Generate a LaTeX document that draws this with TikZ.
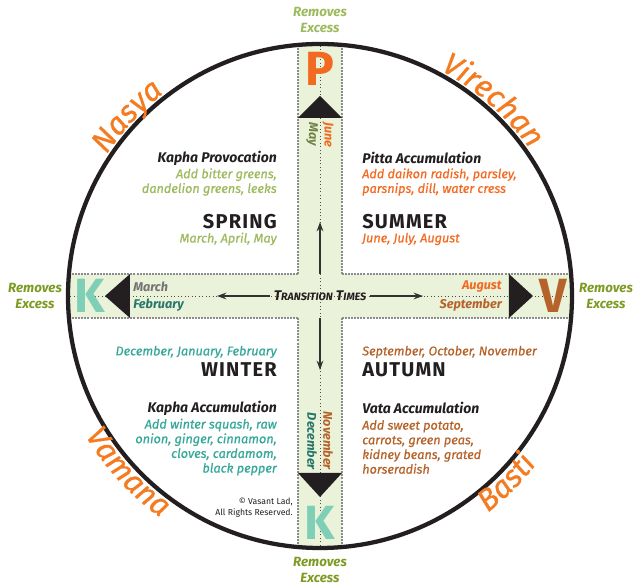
\documentclass[tikz,border=0pt]{standalone}
\usepackage{fontspec}
\setmainfont{Fira Sans}
\usepackage{xcolor}
\usetikzlibrary{arrows.meta,positioning,decorations.text}

\definecolor{springgreen}{HTML}{9DBA5E}
\definecolor{summerorange}{HTML}{F26A21}
\definecolor{winterteal}{HTML}{36A898}
\definecolor{autumnbrown}{HTML}{B5632A}
\definecolor{excessgreen}{HTML}{7D9B23}
\definecolor{therapyorange}{HTML}{F47B20}
\definecolor{bandfill}{HTML}{EBF2DA}
\definecolor{doshateal}{HTML}{7FCFB7}
\definecolor{inkdark}{HTML}{231F20}

\newcommand{\fakesc}[2]{{\fontsize{10.5}{10}\selectfont #1}{\fontsize{8}{10}\selectfont #2}}
\newcommand{\rimfont}{\fontsize{23}{23}\selectfont\itshape
                      \addfontfeatures{FakeBold=0.8}\color{therapyorange}}

\begin{document}
\begin{tikzpicture}[
      x=0.75pt, y=0.75pt,
      band/.style={fill=bandfill},
      bandedge/.style={draw=black!45, line width=1.5pt,
                       dash pattern=on 1.5pt off 0.8pt},
      midline/.style={draw=black!70, line width=0.6pt, dotted},
      pointer/.style={fill=inkdark},
      dosha/.style={font=\fontsize{36}{36}\selectfont\bfseries, inner sep=0pt},
      excess/.style={font=\fontsize{10}{12}\selectfont\bfseries\itshape,
                     text=excessgreen, align=center, inner sep=0pt},
      phase/.style={font=\fontsize{10.5}{12}\selectfont\bfseries\itshape,
                    text=inkdark, inner sep=0pt},
      food/.style={font=\fontsize{9.5}{11}\selectfont\itshape
                   \addfontfeatures{FakeBold=0.7}, inner sep=0pt},
      season/.style={font=\fontsize{15}{15}\selectfont\bfseries
                     \addfontfeatures{LetterSpace=6}, text=inkdark,
                     inner sep=0pt},
      months/.style={font=\fontsize{9.5}{11}\selectfont\itshape
                     \addfontfeatures{FakeBold=0.7}, inner sep=0pt},
      bandmonth/.style={font=\fontsize{9.5}{10}\selectfont\bfseries\itshape,
                        inner sep=0pt},
      flow/.style={-{Stealth[length=7pt,width=5pt]}, line width=1.1pt,
                   draw=black!80},
      therapy/.style={decorate, decoration={text along path,
                      text align=center, text={#1}}},
    ]
    \useasboundingbox (-320,-292) rectangle (320,296);

    % --- the cross of the two bands, cut to the wheel ---------------------
    \begin{scope}
      \clip (0,0) circle[radius=252];
      \fill[band] (-22,-260) rectangle (22,260);
      \fill[band] (-260,-22) rectangle (260,22);
      \draw[bandedge] (-22,22) -- (-22,260);  \draw[bandedge] (22,22) -- (22,260);
      \draw[bandedge] (-22,-22) -- (-22,-260); \draw[bandedge] (22,-22) -- (22,-260);
      \draw[bandedge] (-22,22) -- (-260,22);  \draw[bandedge] (-22,-22) -- (-260,-22);
      \draw[bandedge] (22,22) -- (260,22);    \draw[bandedge] (22,-22) -- (260,-22);
      \draw[midline] (0,-260) -- (0,260);
      \draw[midline] (-260,0) -- (260,0);
    \end{scope}

    % --- the wheel --------------------------------------------------------
    \draw[draw=inkdark, line width=3.2pt] (0,0) circle[radius=252];

    % --- pointers at the ends of the bands --------------------------------
    \fill[pointer] (-22,178) -- (22,178) -- (0,200) -- cycle;
    \fill[pointer] (-22,-177) -- (22,-177) -- (0,-201) -- cycle;
    \fill[pointer] (-190,-22) -- (-190,22) -- (-215,0) -- cycle;
    \fill[pointer] (189,-22) -- (189,22) -- (213,0) -- cycle;

    % --- doshas -----------------------------------------------------------
    \node[dosha, text=summerorange] (pitta)  at (0,227)    {P};
    \node[dosha, text=doshateal]    (kaphaw) at (-230,0)   {K};
    \node[dosha, text=autumnbrown]  (vata)   at (233,0)    {V};
    \node[dosha, text=doshateal]    (kaphas) at (0,-227)   {K};

    \node[excess, text=springgreen] (exn) at (0,276)    {Removes\\Excess};
    \node[excess] (exw) at (-285,0)   {Removes\\Excess};
    \node[excess] (exe) at (286,0)    {Removes\\Excess};
    \node[excess] (exs) at (0,-274)   {Removes\\Excess};

    % --- transition arrows ------------------------------------------------
    \node[inner sep=3pt, font=\bfseries\itshape, text=inkdark] (trans) at (0,0)
         {\fakesc{T}{RANSITION} \fakesc{T}{IMES}};
    \coordinate (westtip)   at (-103,0);
    \coordinate (easttip)   at (103,0);
    \coordinate (northfoot) at (0,22);
    \coordinate (southfoot) at (0,-22);
    \coordinate (northtip)  at (0,74);
    \coordinate (southtip)  at (0,-74);
    \draw[flow] (trans.west) -- (westtip);
    \draw[flow] (trans.east) -- (easttip);
    \draw[flow] (northfoot)  -- (northtip);
    \draw[flow] (southfoot)  -- (southtip);

    % --- months inside the bands ------------------------------------------
    \node[bandmonth, anchor=west, text=black!55] (march) at (-187,9)  {March};
    \node[bandmonth, anchor=west, text=winterteal!70!black] (feb) at (-187,-9)
         {February};
    \node[bandmonth, anchor=east, text=summerorange] (aug) at (182,9) {August};
    \node[bandmonth, anchor=east, text=autumnbrown] (sep) at (182,-9)
         {September};
    \node[bandmonth, rotate=-90, anchor=west, text=summerorange] (jun)
         at (8,174) {June};
    \node[bandmonth, rotate=-90, anchor=west, text=springgreen!70!black] (may)
         at (-8,174) {May};
    \node[bandmonth, rotate=-90, anchor=east, text=autumnbrown] (nov)
         at (8,-174) {November};
    \node[bandmonth, rotate=-90, anchor=east, text=winterteal!70!black] (dec)
         at (-8,-174) {December};

    % --- spring (upper left) ----------------------------------------------
    \node[phase, anchor=east] (sprphase) at (-43,138) {Kapha Provocation};
    \node[food, anchor=east, align=right, text=springgreen] (sprfood)
         at (-43,114) {Add bitter greens,\\dandelion greens, leeks};
    \node[season, anchor=east] (spring) at (-43,74) {SPRING};
    \node[months, anchor=east, text=springgreen] (sprmonths) at (-43,57)
         {March, April, May};

    % --- summer (upper right) ---------------------------------------------
    \node[phase, anchor=west] (sumphase) at (42,138) {Pitta Accumulation};
    \node[food, anchor=west, align=left, text=summerorange] (sumfood)
         at (42,114) {Add daikon radish, parsley,\\parsnips, dill, water cress};
    \node[season, anchor=west] (summer) at (42,74) {SUMMER};
    \node[months, anchor=west, text=summerorange] (summonths) at (42,57)
         {June, July, August};

    % --- winter (lower left) ----------------------------------------------
    \node[months, anchor=east, text=winterteal] (winmonths) at (-43,-56)
         {December, January, February};
    \node[season, anchor=east] (winter) at (-43,-74) {WINTER};
    \node[phase, anchor=east] (winphase) at (-43,-112) {Kapha Accumulation};
    \node[food, anchor=east, align=right, text=winterteal] (winfood)
         at (-43,-151) {Add winter squash, raw\\onion, ginger, cinnamon,\\
                        cloves, cardamom,\\black pepper};
    \node[anchor=east, align=right, inner sep=0pt, text=inkdark,
          font=\fontsize{6.5}{8}\selectfont] (copy) at (-27,-212)
         {\textcopyright{} Vasant Lad,\\All Rights Reserved.};

    % --- autumn (lower right) ---------------------------------------------
    \node[months, anchor=west, text=autumnbrown] (autmonths) at (42,-56)
         {September, October, November};
    \node[season, anchor=west] (autumn) at (42,-74) {AUTUMN};
    \node[phase, anchor=west] (autphase) at (42,-112) {Vata Accumulation};
    \node[food, anchor=west, align=left, text=autumnbrown] (autfood)
         at (42,-151) {Add sweet potato,\\carrots, green peas,\\
                       kidney beans, grated\\horseradish};

    % --- therapies round the rim ------------------------------------------
    \path[therapy={|\rimfont|Nasya}]
         (157:256) arc[start angle=157, end angle=117, radius=256];
    \path[therapy={|\rimfont|Virechan}]
         (78:256) arc[start angle=78, end angle=19, radius=256];
    \path[therapy={|\rimfont|Vamana}]
         (200:273) arc[start angle=200, end angle=245, radius=273];
    \path[therapy={|\rimfont|Basti}]
         (-65:274) arc[start angle=-65, end angle=-25, radius=274];
  \end{tikzpicture}
\end{document}
